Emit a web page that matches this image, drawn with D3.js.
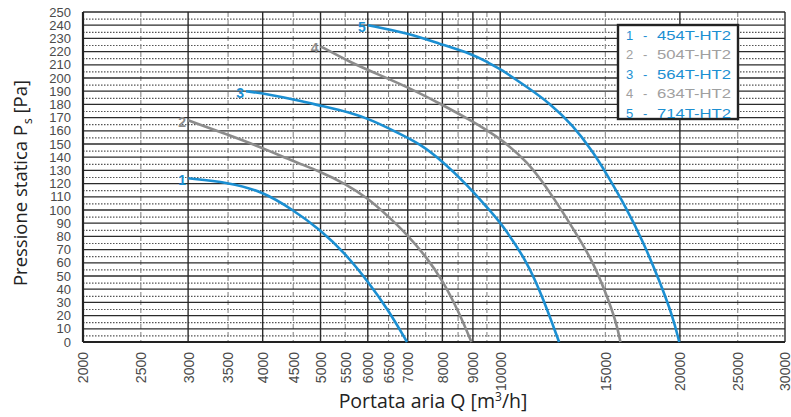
<!DOCTYPE html>
<html>
<head>
<meta charset="utf-8">
<script src="https://cdn.jsdelivr.net/npm/d3@7"></script>
<style>
  body { margin: 0; background: #fff; }
  svg { display: block; }
</style>
</head>
<body>
<div id="vis-holder"></div>
<script>
// Chart data
const xTickValues = [2000, 2500, 3000, 3500, 4000, 4500, 5000, 5500, 6000, 6500, 7000, 8000, 9000, 10000, 15000, 20000, 25000, 30000];
const xMajorGrid = [2000, 3000, 4000, 5000, 6000, 7000, 8000, 9000, 10000, 20000, 30000];
const xMinorGrid = [2500, 3500, 4500, 5500, 6500, 7500, 8500, 9500, 15000, 25000];
const yTickValues = d3.range(0, 251, 10);
const yMinorGrid = d3.range(5, 250, 10);

const seriesNames = ["1", "2", "3", "4", "5"];
const seriesModels = ["454T-HT2", "504T-HT2", "564T-HT2", "634T-HT2", "714T-HT2"];

const q1 = [3000, 3500, 4000, 4500, 5000, 5500, 6000, 6500, 6980];
const p1 = [124, 121, 114, 100, 85, 67, 46, 24, 0];

const q2 = [3000, 3500, 4000, 4500, 5000, 5500, 6000, 6500, 7000, 7500, 8000, 8500, 8950];
const p2 = [168, 157, 147, 137, 129, 120, 109, 95, 81, 65, 47, 24, 0];

const q3 = [3750, 4050, 4600, 5000, 5600, 6100, 6700, 7350, 8000, 8800, 9500, 10000, 11100, 11800, 12550];
const p3 = [190, 188, 183, 179, 174, 168, 159, 150, 137, 119, 102, 91, 61, 33, 0];

const q4 = [5000, 5600, 6300, 7000, 7900, 9000, 9600, 10000, 11100, 12100, 13250, 14300, 15000, 15650, 15900];
const p4 = [224, 212, 202, 193, 181, 167, 159, 154, 137, 114, 86, 61, 38, 15, 0];

const q5 = [6000, 7000, 7900, 9000, 9600, 10000, 11100, 12100, 13250, 14300, 15000, 16300, 17350, 18500, 19500, 19950];
const p5 = [240, 234, 226, 218, 211, 207, 193, 181, 164, 144, 129, 101, 76, 46, 18, 0];

const blue = "#1b8fd2";
const grey = "#8c8c8c";
const seriesColors = [blue, grey, blue, grey, blue];
const legendColors = [blue, "#a0a0a0", blue, "#a0a0a0", blue];

const curves = [[q1, p1], [q2, p2], [q3, p3], [q4, p4], [q5, p5]].map((s, i) => ({
  name: seriesNames[i],
  color: seriesColors[i],
  points: s[0].map((q, j) => ({ q: q, p: s[1][j] }))
}));

// Set margins and dimensions
const W = 791, H = 417;
const margin = { top: 12, right: 6, bottom: 75, left: 83 };
const width = W - margin.left - margin.right;
const height = H - margin.top - margin.bottom;

const svg = d3.select("#vis-holder")
  .append("svg")
  .attr("width", W)
  .attr("height", H)
  .style("font-family", "Arial, 'Liberation Sans', sans-serif");

const g = svg.append("g").attr("transform", `translate(${margin.left},${margin.top})`);

const x = d3.scaleLog().domain([2000, 30000]).range([0, width]);
const y = d3.scaleLinear().domain([0, 250]).range([height, 0]);

// horizontal dotted lines at the 5s
g.append("g").selectAll("line")
  .data(yMinorGrid).enter().append("line")
  .attr("x1", 0).attr("x2", width)
  .attr("y1", d => y(d) + 0.5).attr("y2", d => y(d) + 0.5)
  .attr("stroke", "#555").attr("stroke-width", 1.2)
  .attr("stroke-dasharray", "1.5,1.5");

// vertical dashed lines
g.append("g").selectAll("line")
  .data(xMinorGrid).enter().append("line")
  .attr("x1", d => x(d)).attr("x2", d => x(d))
  .attr("y1", 0).attr("y2", height)
  .attr("stroke", "#888").attr("stroke-width", 1.1)
  .attr("stroke-dasharray", "5,3");

// horizontal solid lines at the 10s
g.append("g").selectAll("line")
  .data(yTickValues).enter().append("line")
  .attr("x1", 0).attr("x2", width)
  .attr("y1", d => y(d)).attr("y2", d => y(d))
  .attr("stroke", "#2b2b2b").attr("stroke-width", 1.3);

// vertical solid lines
g.append("g").selectAll("line")
  .data(xMajorGrid).enter().append("line")
  .attr("x1", d => x(d)).attr("x2", d => x(d))
  .attr("y1", 0).attr("y2", height)
  .attr("stroke", "#2b2b2b").attr("stroke-width", 1.4);

// frame: thicker left and bottom
g.append("line").attr("x1", 0).attr("x2", 0).attr("y1", 0).attr("y2", height)
  .attr("stroke", "#222").attr("stroke-width", 2.2);
g.append("line").attr("x1", 0).attr("x2", width).attr("y1", height).attr("y2", height)
  .attr("stroke", "#222").attr("stroke-width", 2.2);

// y axis labels
const yAxis = g.append("g")
  .call(d3.axisLeft(y).tickValues(yTickValues).tickSize(0).tickPadding(12));
yAxis.select(".domain").remove();
yAxis.selectAll("text")
  .attr("font-size", "13px")
  .attr("fill", "#4a4a4a")
  .attr("font-family", "Arial, 'Liberation Sans', sans-serif");

// x axis labels (rotated)
const xAxis = g.append("g")
  .attr("transform", `translate(0,${height})`)
  .call(d3.axisBottom(x).tickValues(xTickValues).tickFormat(d3.format("d")).tickSize(0));
xAxis.select(".domain").remove();
xAxis.selectAll("text")
  .attr("font-size", "14px")
  .attr("fill", "#4a4a4a")
  .attr("font-family", "Arial, 'Liberation Sans', sans-serif")
  .attr("transform", "rotate(-90)")
  .attr("text-anchor", "end")
  .attr("x", -10)
  .attr("y", 0)
  .attr("dy", "0.35em");

// curves
const line = d3.line()
  .x(d => x(d.q))
  .y(d => y(d.p))
  .curve(d3.curveBasis);

g.append("g").selectAll("path")
  .data(curves).enter().append("path")
  .attr("d", d => line(d.points))
  .attr("fill", "none")
  .attr("stroke", d => d.color)
  .attr("stroke-width", 2.6);

// curve numbers
g.append("g").selectAll("text")
  .data(curves).enter().append("text")
  .attr("x", d => x(d.points[0].q) - 2)
  .attr("y", d => y(d.points[0].p) + 3)
  .attr("text-anchor", "end")
  .attr("dominant-baseline", "middle")
  .attr("font-size", "14px")
  .attr("font-weight", "bold")
  .attr("fill", d => d.color)
  .text(d => d.name);

// legend
const legend = svg.append("g").attr("transform", "translate(618,25)");
legend.append("rect")
  .attr("width", 120).attr("height", 94)
  .attr("fill", "#fff").attr("stroke", "#222").attr("stroke-width", 2.4);
const rows = legend.selectAll("g.row")
  .data(seriesNames).enter().append("g")
  .attr("class", "row")
  .attr("transform", (d, i) => `translate(0,${10 + i * 19.5})`);
rows.append("text").attr("x", 8).attr("dy", "0.35em")
  .attr("font-size", "13px").attr("fill", (d, i) => legendColors[i])
  .text(d => d);
rows.append("text").attr("x", 25).attr("dy", "0.35em")
  .attr("font-size", "13px").attr("fill", (d, i) => legendColors[i])
  .text("-");
rows.append("text").attr("x", 39).attr("dy", "0.35em")
  .attr("font-size", "13px").attr("fill", (d, i) => legendColors[i])
  .attr("textLength", 74).attr("lengthAdjust", "spacingAndGlyphs")
  .text((d, i) => seriesModels[i]);

// axis titles
const yTitle = svg.append("text")
  .attr("transform", "translate(27,183) rotate(-90)")
  .attr("text-anchor", "middle")
  .attr("font-family", "'Open Sans', 'Noto Sans', sans-serif")
  .attr("font-size", "18.5px")
  .attr("fill", "#222");
yTitle.append("tspan").text("Pressione statica P");
yTitle.append("tspan").attr("font-size", "12px").attr("dy", 5).attr("dx", 1).text("s");
yTitle.append("tspan").attr("dy", -5).text(" [Pa]");

const xTitle = svg.append("text")
  .attr("x", 433).attr("y", 408)
  .attr("text-anchor", "middle")
  .attr("font-family", "'Open Sans', 'Noto Sans', sans-serif")
  .attr("font-size", "19.5px")
  .attr("fill", "#222");
xTitle.append("tspan").text("Portata aria Q [m");
xTitle.append("tspan").attr("font-size", "12px").attr("dy", -7).text("3");
xTitle.append("tspan").attr("dy", 7).text("/h]");
</script>
</body>
</html>
